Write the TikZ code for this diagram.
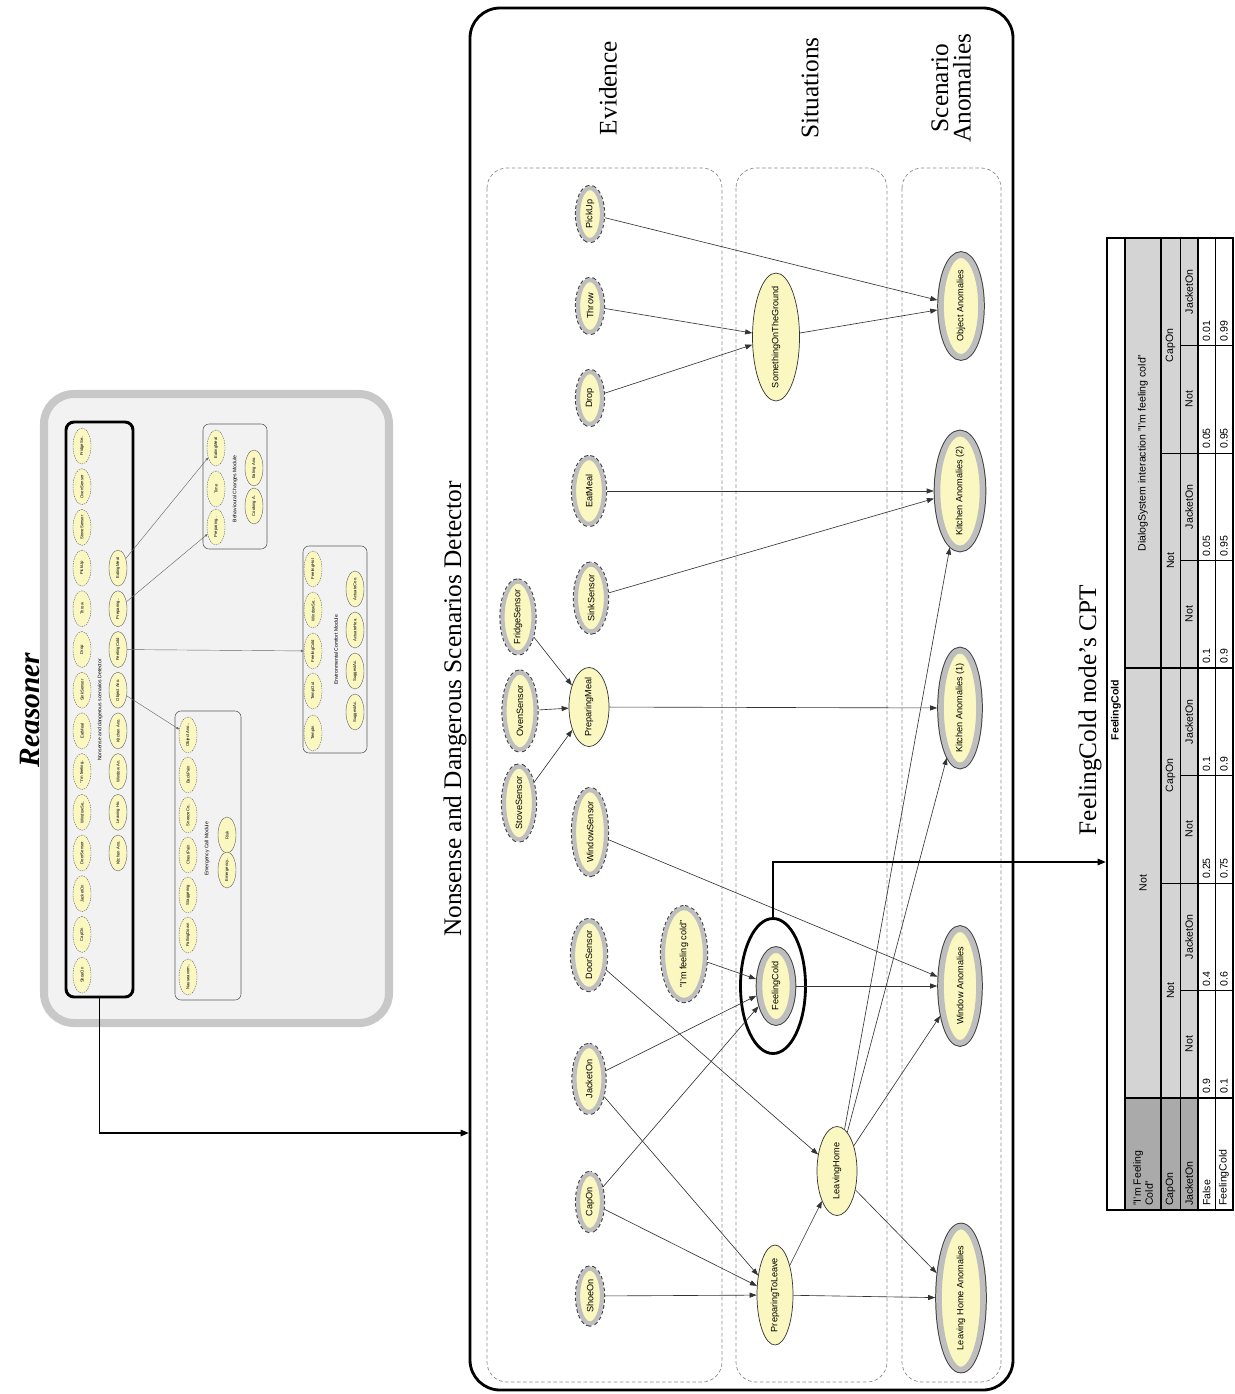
\documentclass[tikz,border=0pt]{standalone}
\usepackage{fontspec}
\setmainfont{Liberation Serif}
\setsansfont{Liberation Sans}
\usetikzlibrary{arrows.meta,shapes.geometric,positioning}

\definecolor{nodeyellow}{RGB}{250,247,192}
\definecolor{ringgray}{RGB}{190,190,190}
\definecolor{panelgray}{RGB}{242,242,242}
\definecolor{panelrim}{RGB}{200,200,200}
\definecolor{hdrgray}{RGB}{212,212,212}
\definecolor{lblgray}{RGB}{170,170,170}

\newcommand{\evfont}{\sffamily\fontsize{6.5}{7.5}\selectfont}
\newcommand{\minifont}{\sffamily\fontsize{3}{3.5}\selectfont}
\newcommand{\modfont}{\sffamily\fontsize{3.6}{4}\selectfont}
\newcommand{\cptfont}{\sffamily\fontsize{7.5}{8.5}\selectfont}
\newcommand{\headfont}{\fontsize{18}{16}\selectfont}

\begin{document}
\begin{tikzpicture}[x=0.025cm, y=-0.025cm,
    sz/.style 2 args={minimum width=#1*0.025cm, minimum height=#2*0.025cm},
    evid/.style={ellipse, rotate=90, inner xsep=-6pt, inner ysep=0pt, fill=nodeyellow, draw=ringgray, line width=3pt, outer sep=2.2pt,
        preaction={draw=black!75, line width=4.4pt, dash pattern=on 2.4pt off 1.6pt}, font=\evfont},
    anom/.style={ellipse, rotate=90, inner xsep=-6pt, inner ysep=0pt, fill=nodeyellow, draw=ringgray, line width=4pt, outer sep=2.7pt,
        preaction={draw=black!75, line width=5.4pt}, font=\evfont},
    situ/.style={ellipse, rotate=90, inner xsep=-6pt, inner ysep=0pt, fill=nodeyellow, draw=black!80, line width=0.5pt, font=\evfont},
    mini/.style={ellipse, rotate=90, inner xsep=-6pt, inner ysep=0pt, fill=nodeyellow, draw=black!60, line width=0.3pt,
        dash pattern=on 1pt off 0.7pt, sz={36}{18}, font=\minifont},
    minisolid/.style={mini, solid},
    lane/.style={draw=black!45, dash pattern=on 2.5pt off 1.8pt, line width=0.5pt, rounded corners=0.5cm},
    modbox/.style={draw=gray!70!black, line width=0.4pt, rounded corners=0.15cm},
    modlabel/.style={rotate=90, font=\modfont},
    headtitle/.style={rotate=90, font=\headfont, align=center},
    arrow/.style={-{Triangle[length=5pt,width=3.6pt]}, line width=0.45pt, draw=black!80},
    miniarrow/.style={-{Triangle[length=2pt,width=1.6pt]}, line width=0.3pt, draw=black!60},
    link/.style={-{Triangle[length=6pt,width=4.5pt]}, line width=1.4pt},
    cpt/.style={rotate=90, font=\cptfont, inner sep=0pt},
    cptlbl/.style={cpt, anchor=west, align=left}
]
\fill[white] (0,0) rectangle (1235,1394);
\useasboundingbox (0,0) rectangle (1235,1394);

% Reasoner panel
\node[rotate=90, font=\fontsize{21}{24}\selectfont\bfseries\itshape] (reasoner) at (30,710) {Reasoner};
\draw[fill=panelgray, draw=panelrim, line width=5.7pt, rounded corners=0.75cm] (44,394) rectangle (389,1023);
\draw[line width=2.1pt, rounded corners=0.2cm] (66,422) rectangle (133,997);
\coordinate (det-out) at (99.5,997);
\node[modlabel] (det-lbl) at (100,710) {Nonsense and dangerous scenarios Detector};
\foreach \lbl [count=\i from 0] in {FridgeSe.., OvenSensor, StoveSensor, PickUp, Throw, Drop, SinkSensor, EatMeal, "I'm feeling.., WindowSe.., DoorSensor, JacketOn, CapOn, ShoeOn}
    \node[mini] (ra-\i) at (82,{446+40.7*\i}) {\lbl};
\foreach \lbl [count=\i from 3] in {EatingMeal, Preparing.., FeelingCold, Object Ano., Kitchen Ano., Window An., Leaving Ho., Kitchen Ano.}
    \node[minisolid] (rb-\i) at (118,{446+40.7*\i}) {\lbl};

% Behavioural Changes Module
\draw[modbox] (203,424) rectangle (267,549);
\node[modlabel] (bc-lbl) at (235,489) {Behavioural Changes Module};
\node[mini] (bc-eat) at (216,448) {EatingMeal};
\node[mini] (bc-time) at (216,489) {Time};
\node[mini] (bc-prep) at (216,527) {Preparing..};
\node[minisolid] (bc-eatano) at (254,468) {Eating Ano.};
\node[minisolid] (bc-cookano) at (254,506) {Cooking A.};

% Environmental Comfort Module
\draw[modbox] (303,546) rectangle (367,753);
\node[modlabel] (ec-lbl) at (336,650) {Environmental Comfort Module};
\node[mini] (ec-hot) at (313,569) {FeelingHot};
\node[mini] (ec-win) at (313,610) {WindowSe..};
\node[mini] (ec-cold) at (313,651) {FeelingCold};
\node[mini] (ec-out) at (313,691) {TempOut};
\node[mini] (ec-in) at (313,733) {TempIn};
\node[minisolid] (ec-cool) at (355,589) {ActuateCoo.};
\node[minisolid] (ec-heat) at (355,630) {ActuateHea.};
\node[minisolid] (ec-sug1) at (355,671) {SuggestAc.};
\node[minisolid] (ec-sug2) at (355,712) {SuggestAc.};

% Emergency Call Module
\draw[modbox] (175,711) rectangle (241,1000);
\node[modlabel] (em-lbl) at (207,849) {Emergency Call Module};
\node[mini] (em-obj) at (188,735) {Object Ano..};
\node[mini] (em-back) at (188,775) {BackPain};
\node[mini] (em-sneeze) at (188,815) {SneezeCo..};
\node[mini] (em-chest) at (188,855) {ChestPain};
\node[mini] (em-stag) at (188,895) {Staggering};
\node[mini] (em-fall) at (188,935) {FallingDown};
\node[mini] (em-naus) at (188,977) {Nauseavom..};
\node[minisolid] (em-risk) at (227,835) {Risk};
\node[minisolid] (em-call) at (227,870) {Emergency..};

\draw[miniarrow] (rb-3) -- (bc-eat);
\draw[miniarrow] (rb-4) -- (bc-prep);
\draw[miniarrow] (rb-5) -- (ec-cold);
\draw[miniarrow] (rb-6) -- (em-obj);

% Detector panel
\node[headtitle] (nds-title) at (455,709) {Nonsense and Dangerous Scenarios Detector};
\draw[line width=2pt, rounded corners=0.75cm] (470,8) rectangle (1013,1390);
\coordinate (nds-in) at (469,1133);
\draw[link] (det-out) |- (nds-in);

\draw[lane] (487,168) rectangle (722,1382);
\draw[lane] (736,168) rectangle (887,1382);
\draw[lane] (902,168) rectangle (1001,1382);
\node[headtitle] (t-evid) at (608,88) {Evidence};
\node[headtitle] (t-situ) at (810,88) {Situations};
\node[headtitle] (t-anom) at (951,88) {Scenario\\Anomalies};

% Evidence
\node[evid, sz={52}{24}] (pickup) at (590,214) {PickUp};
\node[evid, sz={52}{24}] (throw) at (590,306) {Throw};
\node[evid, sz={52}{24}] (drop) at (590,398) {Drop};
\node[evid, sz={66}{30}] (eatmeal) at (589,491) {EatMeal};
\node[evid, sz={67}{30}] (sink) at (591,598) {SinkSensor};
\node[evid, sz={71}{31}] (fridge) at (518,617) {FridgeSensor};
\node[evid, sz={77}{31}] (oven) at (520,711) {OvenSensor};
\node[evid, sz={73}{30}] (stove) at (519,803) {StoveSensor};
\node[evid, sz={84}{32}] (window) at (590,832) {WindowSensor};
\node[evid, sz={68}{32}] (door) at (589,955) {DoorSensor};
\node[evid, sz={92}{42}] (saycold) at (684,954) {"I'm feeling cold"};
\node[evid, sz={66}{29}] (jacket) at (589,1079) {JacketOn};
\node[evid, sz={56}{24}] (cap) at (590,1202) {CapOn};
\node[evid, sz={55}{24}] (shoe) at (590,1296) {ShoeOn};

% Situations
\node[situ, sz={79}{40}] (prepmeal) at (589,707) {PreparingMeal};
\node[situ, sz={128}{47}] (ground) at (776,337) {SomethingOnTheGround};
\node[anom, sz={72}{33}] (feelcold) at (776,986) {FeelingCold};
\node[draw, ellipse, line width=2pt, sz={65}{135}] (hl) at (773,986) {};
\node[situ, sz={89}{40}] (leaving) at (837,1171) {LeavingHome};
\node[situ, sz={100}{36}] (prepleave) at (775,1295) {PreparingToLeave};

% Scenario anomalies
\node[anom, sz={102}{40}] (objano) at (961,306) {Object Anomalies};
\node[anom, sz={115}{45}] (kit2) at (960,491) {Kitchen Anomalies (2)};
\node[anom, sz={115}{38}] (kit1) at (960,708) {Kitchen Anomalies (1)};
\node[anom, sz={114}{38}] (winano) at (960,986) {Window Anomalies};
\node[anom, sz={143}{44}] (leaveano) at (961,1298) {Leaving Home Anomalies};

% Edges
\draw[arrow] (pickup) -- (objano);
\draw[arrow] (throw) -- (ground);
\draw[arrow] (drop) -- (ground);
\draw[arrow] (ground) -- (objano);
\draw[arrow] (eatmeal) -- (kit2);
\draw[arrow] (sink) -- (kit2);
\draw[arrow] (fridge) -- (prepmeal);
\draw[arrow] (oven) -- (prepmeal);
\draw[arrow] (stove) -- (prepmeal);
\draw[arrow] (prepmeal) -- (kit1);
\draw[arrow] (window) -- (winano);
\draw[arrow] (saycold) -- (feelcold);
\draw[arrow] (door) -- (leaving);
\draw[arrow] (jacket) -- (feelcold);
\draw[arrow] (jacket) -- (prepleave);
\draw[arrow] (cap) -- (feelcold);
\draw[arrow] (cap) -- (prepleave);
\draw[arrow] (shoe) -- (prepleave);
\draw[arrow] (feelcold) -- (winano);
\draw[arrow] (prepleave) -- (leaving);
\draw[arrow] (prepleave) -- (leaveano);
\draw[arrow] (leaving) -- (kit2);
\draw[arrow] (leaving) -- (kit1);
\draw[arrow] (leaving) -- (winano);
\draw[arrow] (leaving) -- (leaveano);

% CPT
\node[headtitle] (cpt-title) at (1090,710) {FeelingCold node’s CPT};
\coordinate (cpt-in) at (1106,862);
\draw[link] (hl.north) |- (cpt-in);

\fill[lblgray] (1125,1098) rectangle (1198,1210);
\fill[hdrgray] (1125,238) rectangle (1198,1098);
\draw[line width=0.9pt] (1107,238) rectangle (1233,1210);
\foreach \xx in {1125,1161,1198}
    \draw[line width=0.9pt] (\xx,238) -- (\xx,1210);
\foreach \xx in {1180,1215}
    \draw[line width=0.5pt] (\xx,238) -- (\xx,1210);
\draw[line width=0.9pt] (1125,1098) -- (1233,1098);
\draw[line width=0.9pt] (1125,668) -- (1233,668);
\foreach \yy in {883,453}
    \draw[line width=0.7pt] (1161,\yy) -- (1233,\yy);
\foreach \yy in {990.5,775.5,560.5,345.5}
    \draw[line width=0.7pt] (1180,\yy) -- (1233,\yy);

\node[cpt, font=\cptfont\bfseries] (cpt-head) at (1116,710) {FeelingCold};
\node[cptlbl] (lbl-say) at (1143,1206) {"I'm Feeling\\Cold"};
\node[cptlbl] (lbl-cap) at (1170.5,1206) {CapOn};
\node[cptlbl] (lbl-jacket) at (1189,1206) {JacketOn};
\node[cptlbl] (lbl-false) at (1206.5,1206) {False};
\node[cptlbl] (lbl-cold) at (1224,1206) {FeelingCold};
\node[cpt] (h1-not) at (1143,883) {Not};
\node[cpt] (h1-say) at (1143,453) {DialogSystem interaction "I'm feeling cold"};
\node[cpt] (h2-a) at (1170.5,990.5) {Not};
\node[cpt] (h2-b) at (1170.5,775.5) {CapOn};
\node[cpt] (h2-c) at (1170.5,560.5) {Not};
\node[cpt] (h2-d) at (1170.5,345.5) {CapOn};
\foreach \j in {1,3,5,7}
    \node[cpt] (h3-\j) at (1189,{1098-107.5*(\j-0.5)}) {Not};
\foreach \j in {2,4,6,8}
    \node[cpt] (h3-\j) at (1189,{1098-107.5*(\j-0.5)}) {JacketOn};
\foreach \v [count=\j] in {0.9,0.4,0.25,0.1,0.1,0.05,0.05,0.01}
    \node[cptlbl] (vf-\j) at (1206.5,{1094-107.5*(\j-1)}) {\v};
\foreach \v [count=\j] in {0.1,0.6,0.75,0.9,0.9,0.95,0.95,0.99}
    \node[cptlbl] (vt-\j) at (1224,{1094-107.5*(\j-1)}) {\v};

\end{tikzpicture}
\end{document}
